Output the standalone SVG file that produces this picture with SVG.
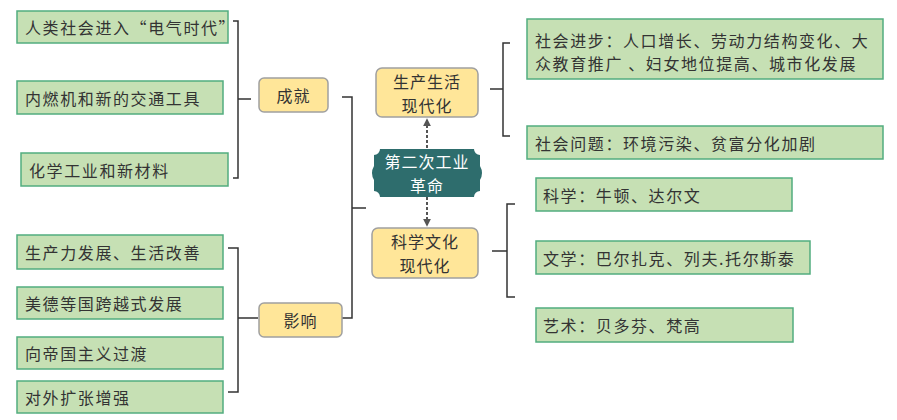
<svg xmlns="http://www.w3.org/2000/svg" width="897" height="420" viewBox="0 0 897 420">
<style>
.g{fill:#C6E0B4;stroke:#52AD7F;stroke-width:1.5}
.y{fill:#FFE699;stroke:#A0A0A0;stroke-width:1.5}
.t{font-family:"Noto Sans CJK SC","Noto Sans",sans-serif;font-size:16px;fill:#333;dominant-baseline:central;letter-spacing:1.6px}
.c{text-anchor:middle;font-size:16px;letter-spacing:1px}
.w{fill:#fff}
.br{fill:none;stroke:#333;stroke-width:1.5}
.da{fill:none;stroke:#555;stroke-width:2;stroke-dasharray:3 2}
</style>
<defs>
<marker id="ah" viewBox="0 0 10 10" refX="9" refY="5" markerWidth="4" markerHeight="4" orient="auto-start-reverse">
<path d="M0,0 L10,5 L0,10 Z" fill="#555"/>
</marker>
</defs>
<rect width="897" height="420" fill="#fff"/>
<g id="connectors">
<path class="br" d="M233,21 H238 V178 H233 M238,99 H251"/>
<path class="br" d="M228,248 H238 V392 H228 M238,318 H258"/>
<path class="br" d="M342,97 H352 V318 H342 M352,208 H366"/>
<path class="br" d="M510,43 H503 V136 H510 M490,89 H503"/>
<path class="br" d="M515,204 H507 V297 H515 M492,251 H507"/>
<path class="da" d="M427,148 V119" marker-end="url(#ah)"/>
<path class="da" d="M427,197 V226" marker-end="url(#ah)"/>
</g>
<g id="n1"><rect class="g" x="17" y="11" width="211" height="32"/><text class="t" x="25" y="27">人类社会进入“电气时代”</text></g>
<g id="n2"><rect class="g" x="17" y="81" width="206" height="33"/><text class="t" x="25" y="97.5">内燃机和新的交通工具</text></g>
<g id="n3"><rect class="g" x="21" y="153" width="207" height="33"/><text class="t" x="29" y="169.5">化学工业和新材料</text></g>
<g id="n4"><rect class="g" x="17" y="235" width="206" height="34"/><text class="t" x="25" y="252">生产力发展、生活改善</text></g>
<g id="n5"><rect class="g" x="17" y="287" width="206" height="32"/><text class="t" x="25" y="303">美德等国跨越式发展</text></g>
<g id="n6"><rect class="g" x="17" y="337" width="206" height="32"/><text class="t" x="25" y="353">向帝国主义过渡</text></g>
<g id="n7"><rect class="g" x="17" y="381" width="206" height="32"/><text class="t" x="25" y="397">对外扩张增强</text></g>
<g id="achieve"><rect class="y" x="259" y="78" width="69" height="34" rx="5"/><text class="t c" x="293.5" y="95">成就</text></g>
<g id="impact"><rect class="y" x="259" y="303" width="83" height="34" rx="5"/><text class="t c" x="300.5" y="320">影响</text></g>
<g id="center">
<path fill="#2E6D6D" d="M380,149 H474 A6 6 0 0 0 480,155 V166 Q484,173 480,180 V191 A6 6 0 0 0 474,197 H380 A6 6 0 0 0 374,191 V180 Q370,173 374,166 V155 A6 6 0 0 0 380,149 Z"/>
<text class="t c w" x="427" y="161">第二次工业</text>
<text class="t c w" x="427" y="185">革命</text>
</g>
<g id="life"><rect class="y" x="376" y="68" width="102" height="49" rx="6"/><text class="t c" x="427" y="81">生产生活</text><text class="t c" x="427" y="105">现代化</text></g>
<g id="culture"><rect class="y" x="372" y="228" width="106" height="50" rx="6"/><text class="t c" x="425" y="241">科学文化</text><text class="t c" x="425" y="265">现代化</text></g>
<g id="r1"><rect class="g" x="527" y="19" width="356" height="60"/><text class="t" x="535" y="40">社会进步：人口增长、劳动力结构变化、大</text><text class="t" x="535" y="63">众教育推广 、妇女地位提高、城市化发展</text></g>
<g id="r2"><rect class="g" x="527" y="126" width="356" height="33"/><text class="t" x="535" y="142.5">社会问题：环境污染、贫富分化加剧</text></g>
<g id="r3"><rect class="g" x="536" y="178" width="256" height="33"/><text class="t" x="543" y="194.5">科学：牛顿、达尔文</text></g>
<g id="r4"><rect class="g" x="536" y="241" width="274" height="33"/><text class="t" x="543" y="257.5">文学：巴尔扎克、列夫.托尔斯泰</text></g>
<g id="r5"><rect class="g" x="536" y="308" width="257" height="34"/><text class="t" x="543" y="325">艺术：贝多芬、梵高</text></g>
</svg>
